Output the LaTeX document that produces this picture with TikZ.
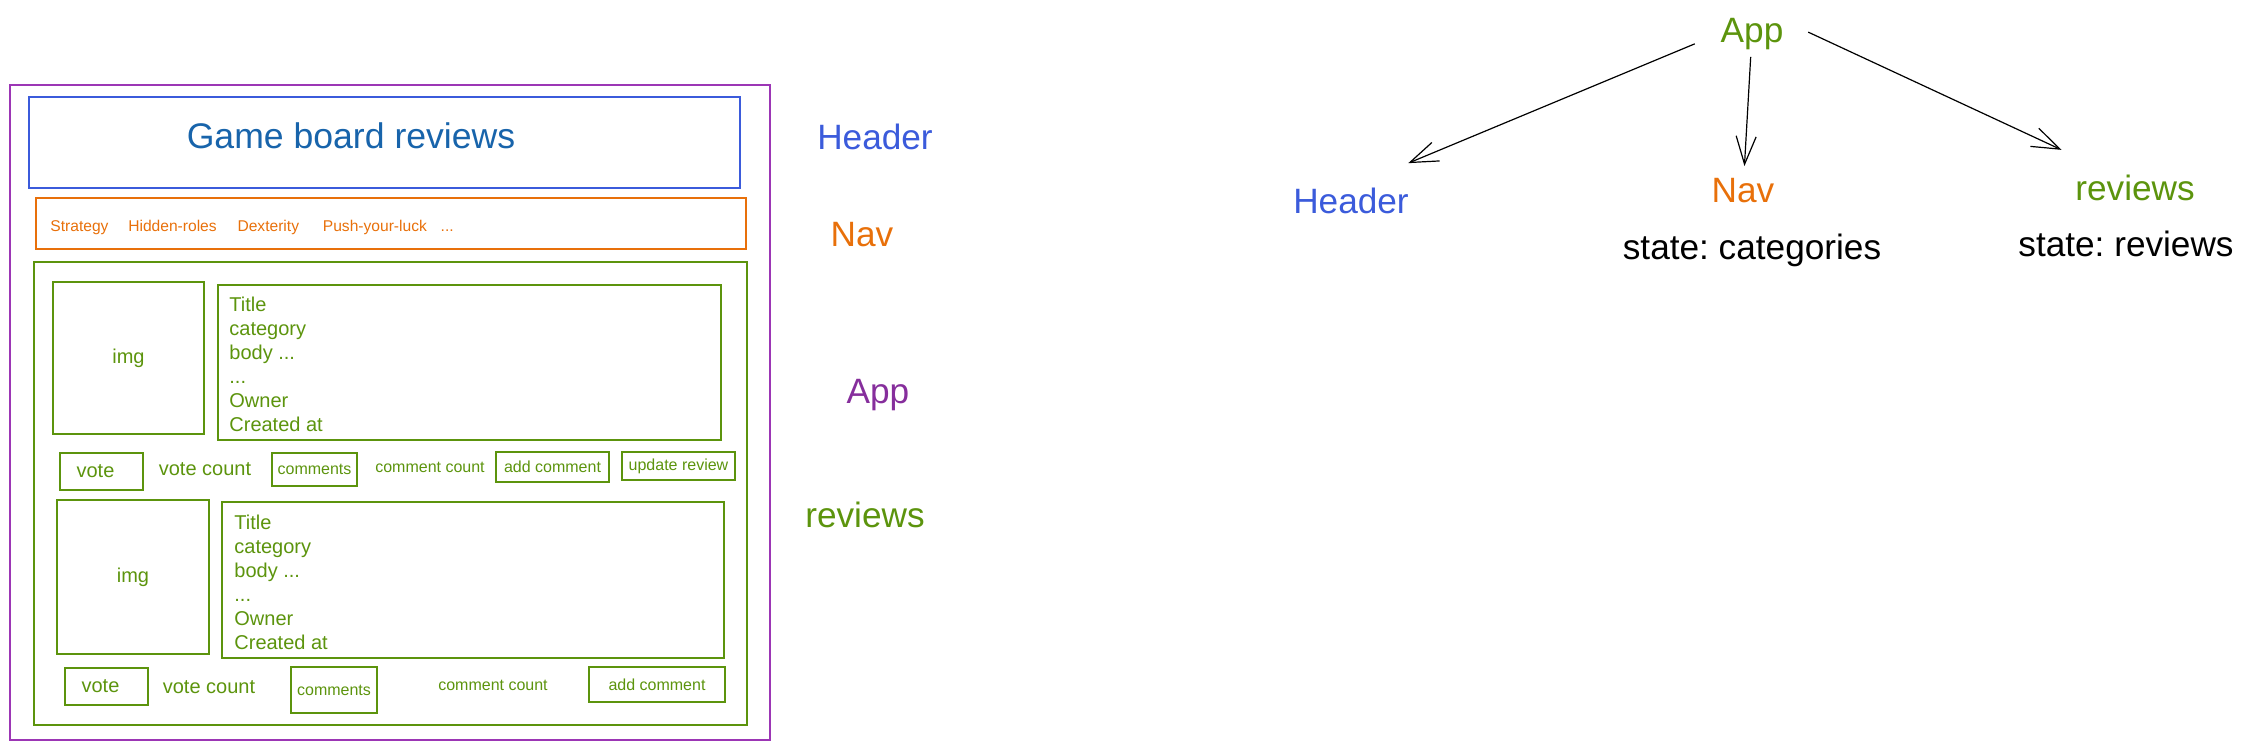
\documentclass[tikz,border=0pt]{standalone}
\usepackage{fontspec}
\setmainfont{Liberation Sans}
\usepackage{xcolor}
\usetikzlibrary{arrows.meta,positioning}
\definecolor{appviolet}{HTML}{9C36B5}
\definecolor{applabel}{HTML}{862E9C}
\definecolor{headblue}{HTML}{3B5BDB}
\definecolor{titleblue}{HTML}{1864AB}
\definecolor{navorange}{HTML}{E8700A}
\definecolor{revgreen}{HTML}{5C940D}
\newcommand{\lblfont}{\fontsize{17.6}{21}\selectfont}
\newcommand{\txtfont}{\fontsize{10}{12}\selectfont}
\newcommand{\smlfont}{\fontsize{8}{10}\selectfont}
\frenchspacing

\begin{document}
\begin{tikzpicture}[x=0.5pt,y=-0.5pt,
	frame/.style={line width=0.8pt},
	btn/.style={draw=revgreen,line width=0.8pt,text=revgreen,inner sep=0pt},
	navitem/.style={text=navorange,font=\fontsize{7.8}{10}\selectfont,inner sep=0pt,anchor=west,text height=1.5ex,text depth=.25ex},
	treearrow/.style={-{Straight Barb[length=14pt,width=10pt]},line width=0.6pt}]
	\useasboundingbox (0,0) rectangle (2248,750);
	% wireframe
	\draw [frame,appviolet] (10,85) rectangle (770,740);
	\draw [frame,headblue] (29,97) rectangle (740,188);
	\node [text=titleblue,font=\fontsize{17.8}{22}\selectfont] (title) at (351,136) {Game board reviews};
	\draw [frame,navorange] (36,198) rectangle (746,249);
	\node [navitem] (strategy) at (50,225) {Strategy};
	\node [navitem,right=9.5pt of strategy] (hidden) {Hidden-roles};
	\node [navitem,right=10pt of hidden] (dexterity) {Dexterity};
	\node [navitem,right=11.5pt of dexterity] (push) {Push-your-luck};
	\node [navitem,right=6.5pt of push] (more) {...};
	\draw [frame,revgreen] (34,262) rectangle (747,725);
	% first review
	\node [btn,minimum width=75.5pt,minimum height=76pt,font=\txtfont] (img1) at (128.5,358) {img};
	\draw [frame,revgreen] (218,285) rectangle (721,440);
	\node [text=revgreen,font=\txtfont,align=left,anchor=north west,inner sep=0pt] (info1) at (229,297)
		{Title\\category\\body ...\\...\\Owner\\Created at};
	\node [btn,minimum width=41.5pt,minimum height=18.5pt,font=\txtfont,text depth=0pt] (vote1) at (101.5,471.5) {\hspace*{-6pt}vote};
	\node [text=revgreen,font=\txtfont] (votecount1) at (205,469) {vote count};
	\node [btn,minimum width=42.5pt,minimum height=16.5pt,font=\smlfont] (comments1) at (314.5,469.5) {comments};
	\node [text=revgreen,font=\smlfont] (commentcount1) at (430,467) {comment count};
	\node [btn,minimum width=56.5pt,minimum height=15pt,font=\smlfont] (addcomment1) at (552.5,467) {add comment};
	\node [btn,minimum width=56.5pt,minimum height=14pt,font=\smlfont] (update1) at (678.5,466) {update review};
	% second review
	\node [btn,minimum width=76pt,minimum height=77pt,font=\txtfont] (img2) at (133,577) {img};
	\draw [frame,revgreen] (222,502) rectangle (724,658);
	\node [text=revgreen,font=\txtfont,align=left,anchor=north west,inner sep=0pt] (info2) at (234,515)
		{Title\\category\\body ...\\...\\Owner\\Created at};
	\node [btn,minimum width=41.5pt,minimum height=18.5pt,font=\txtfont,text depth=0pt] (vote2) at (106.5,686.5) {\hspace*{-6pt}vote};
	\node [text=revgreen,font=\txtfont] (votecount2) at (209,687) {vote count};
	\node [btn,minimum width=43pt,minimum height=23pt,font=\smlfont] (comments2) at (334,690) {comments};
	\node [text=revgreen,font=\smlfont] (commentcount2) at (493,685) {comment count};
	\node [btn,minimum width=68pt,minimum height=17.5pt,font=\smlfont] (addcomment2) at (657,684.5) {add comment};
	% labels
	\node [text=headblue,font=\lblfont] (lblheader) at (875,137) {Header};
	\node [text=navorange,font=\lblfont] (lblnav) at (862,235) {Nav};
	\node [text=applabel,font=\lblfont] (lblapp) at (878,395) {App};
	\node [text=revgreen,font=\lblfont] (lblreviews) at (865,515) {reviews};
	% component tree
	\node [text=revgreen,font=\lblfont] (app) at (1752,34) {App};
	\node [text=headblue,font=\lblfont] (header) at (1351,201) {Header};
	\node [text=navorange,font=\lblfont] (nav) at (1743,191) {Nav};
	\node [font=\lblfont] (navstate) at (1752,250) {state: categories};
	\node [text=revgreen,font=\lblfont] (reviews) at (2135,188) {reviews};
	\node [font=\lblfont] (revstate) at (2126,244) {state: reviews};
	\draw [treearrow,shorten <=31pt,shorten >=31pt] ([yshift=7pt]app.center) -- ([yshift=7pt]header.center);
	\draw [treearrow,shorten <=11.5pt,shorten >=12.5pt] (app.center) -- (nav.center);
	\draw [treearrow,shorten <=31pt,shorten >=40.5pt] ([yshift=14pt]app.center) -- ([yshift=2pt]reviews.center);
\end{tikzpicture}
\end{document}
